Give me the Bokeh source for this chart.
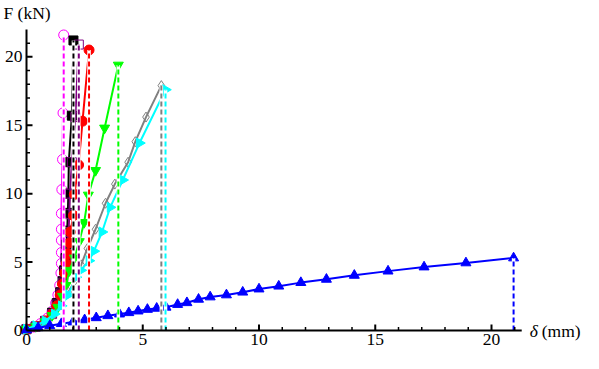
import math
from bokeh.plotting import figure
from bokeh.models import Range1d
from bokeh.core.properties import value
from bokeh.embed import file_html
from bokeh.resources import INLINE

# ---- data ----
mag_x = [0, 0.3, 0.6, 0.9, 1.1, 1.25, 1.35, 1.43, 1.48, 1.5, 1.5, 1.5, 1.5, 1.5, 1.52, 1.55, 1.57, 1.6]
mag_y = [0.1, 0.25, 0.5, 0.9, 1.4, 2.0, 2.6, 3.3, 4.2, 4.9, 5.7, 6.6, 7.4, 8.55, 10.3, 12.5, 15.9, 21.6]

blk_x = [0, 0.4, 0.8, 1.1, 1.3, 1.45, 1.55, 1.62, 1.68, 1.72, 1.75, 1.78, 1.8, 1.82, 1.95, 2.02]
blk_y = [0.1, 0.3, 0.7, 1.3, 2.0, 2.8, 3.6, 4.4, 5.3, 6.3, 7.3, 8.6, 10.0, 12.3, 15.7, 21.2]

pur_x = [0, 0.4, 0.8, 1.1, 1.3, 1.47, 1.58, 1.66, 1.72, 1.77, 1.81, 1.84, 1.87, 1.95, 2.1, 2.25]
pur_y = [0.1, 0.3, 0.7, 1.2, 1.9, 2.7, 3.5, 4.3, 5.2, 6.2, 7.2, 8.5, 10.0, 12.3, 15.6, 20.9]

red_x = [0, 0.4, 0.8, 1.1, 1.3, 1.45, 1.55, 1.64, 1.71, 1.78, 1.85, 1.88, 2.02, 2.06, 2.24, 2.41, 2.69]
red_y = [0.1, 0.3, 0.7, 1.2, 1.8, 2.6, 3.4, 4.2, 4.9, 5.6, 6.4, 7.2, 8.4, 9.95, 12.1, 15.3, 20.5]

grn_x = [0, 0.4, 0.8, 1.1, 1.35, 1.55, 1.7, 1.85, 2.06, 2.27, 2.48, 2.66, 2.97, 3.36, 3.95]
grn_y = [0.1, 0.3, 0.65, 1.1, 1.7, 2.5, 3.3, 4.4, 5.3, 6.5, 7.9, 9.9, 11.7, 14.8, 19.4]

gry_x = [0, 0.4, 0.8, 1.2, 1.5, 1.8, 2.1, 2.35, 2.62, 2.97, 3.4, 3.8, 4.37, 4.68, 5.14, 5.8]
gry_y = [0.1, 0.3, 0.65, 1.2, 1.9, 2.8, 3.7, 4.8, 6.0, 7.4, 9.3, 10.7, 12.3, 13.8, 15.6, 17.9]

cyn_x = [0, 0.4, 0.8, 1.2, 1.5, 1.8, 2.13, 2.34, 2.69, 2.9, 3.25, 3.6, 4.14, 4.86, 5.98]
cyn_y = [0.1, 0.35, 0.7, 1.2, 1.8, 2.6, 3.9, 4.4, 5.1, 5.8, 7.2, 9.0, 11.0, 13.7, 17.6]

blu_x = [0, 0.5, 1.0, 1.5, 2.0, 2.5, 3.0, 3.5, 4.0, 4.4, 4.8, 5.2, 5.6, 6.0, 6.5, 6.9,
         7.4, 7.9, 8.6, 9.3, 10.0, 10.85, 11.8, 12.9, 14.1, 15.55, 17.1, 18.9, 20.95]
blu_y = [0.05, 0.2, 0.35, 0.5, 0.62, 0.78, 0.93, 1.08, 1.2, 1.3, 1.42, 1.54, 1.62, 1.7, 1.9, 2.03,
         2.28, 2.45, 2.6, 2.8, 3.03, 3.24, 3.5, 3.74, 4.03, 4.34, 4.64, 4.94, 5.3]

x_ticks = [0, 5, 10, 15, 20]
y_ticks = [0, 5, 10, 15, 20]
x_axis_max = 21.3
y_axis_max = 22.0

FONT = value("Liberation Serif")
FS = "17.5px"

W, H = 583, 353
# screen layout: data origin at canvas (26, 330); y_axis_max at canvas y 29
PXX = 23.25
PXY = (330 - 29) / y_axis_max
x0 = -26 / PXX
x1 = x0 + W / PXX
y1 = 330 / PXY
y0 = y1 - H / PXY

p = figure(width=W, height=H, output_backend="svg", toolbar_location=None,
           x_range=Range1d(x0, x1), y_range=Range1d(y0, y1),
           min_border=0, x_axis_type=None, y_axis_type=None)
p.min_border_left = p.min_border_right = p.min_border_top = p.min_border_bottom = 0
p.outline_line_color = None
p.xgrid.visible = False
p.ygrid.visible = False
p.background_fill_color = "white"
p.border_fill_color = "white"

series = [
    (mag_x, mag_y, "#FF00FF", "circle", True, 10, 0),
    (blk_x, blk_y, "#000000", "square", False, 9, 0),
    (pur_x, pur_y, "#800080", "square", True, 9, 0),
    (red_x, red_y, "#FF0000", "circle", False, 10, 0),
    (grn_x, grn_y, "#00FF00", "inverted_triangle", False, 10, 0),
    (gry_x, gry_y, "#808080", "diamond", True, 10, 0),
    (cyn_x, cyn_y, "#00FFFF", "triangle", False, 10, -math.pi / 2),
    (blu_x, blu_y, "#0000FF", "triangle", False, 10, 0),
]

for xs, ys, col, mk, hollow, sz, ang in series:
    p.line(xs, ys, line_color=col, line_width=2)
    p.scatter(xs, ys, marker=mk, size=sz, angle=ang,
              line_color=col, line_width=1,
              fill_color=("white" if hollow else col),
              fill_alpha=(0 if hollow else 1))

for xs, ys, col, mk, hollow, sz, ang in series:
    xp, yp = xs[-1], ys[-1]
    p.segment([xp], [0], [xp], [yp], line_color="white", line_width=3.5)
    p.segment([xp], [0], [xp], [yp], line_color=col, line_width=2, line_dash="5 3")

# ---- axes drawn by hand (crossing at origin, inward ticks) ----
p.segment([0, 0], [0, 0], [x_axis_max, 0], [0, y_axis_max], line_color="black", line_width=2)

x_major = [t for t in x_ticks if t > 0]
y_major = [t for t in y_ticks if t > 0]
x_minor = [i for i in range(1, int(x_axis_max) + 1) if i % 5 != 0]
y_minor = [i for i in range(1, int(y_axis_max)) if i % 5 != 0]

p.ray(x=x_major, y=[0] * len(x_major), length=6, length_units="screen",
      angle=math.pi / 2, line_color="black", line_width=2)
p.ray(x=x_minor, y=[0] * len(x_minor), length=3.5, length_units="screen",
      angle=math.pi / 2, line_color="black", line_width=1.5)
p.ray(x=[0] * len(y_major), y=y_major, length=6, length_units="screen",
      angle=0, line_color="black", line_width=2)
p.ray(x=[0] * len(y_minor), y=y_minor, length=3.5, length_units="screen",
      angle=0, line_color="black", line_width=1.5)

# tick labels
p.text(x=x_ticks, y=[-3 / PXY] * len(x_ticks), text=[str(t) for t in x_ticks],
       text_font=FONT, text_font_size=FS, text_color="black",
       text_align="center", text_baseline="top")
p.text(x=[-4 / PXX] * len(y_ticks), y=y_ticks, text=[str(t) for t in y_ticks],
       text_font=FONT, text_font_size=FS, text_color="black",
       text_align="right", text_baseline="middle")

# axis titles
p.text(x=[x_axis_max + 8 / PXX], y=[0], text=["δ"], text_font=FONT,
       text_font_style="italic", text_font_size=FS, text_color="black",
       text_align="left", text_baseline="middle")
p.text(x=[x_axis_max + 20 / PXX], y=[0], text=["(mm)"], text_font=FONT,
       text_font_size=FS, text_color="black",
       text_align="left", text_baseline="middle")
p.text(x=[x0 + 3 / PXX], y=[y1 - 2 / PXY], text=["F (kN)"], text_font=FONT,
       text_font_size=FS, text_color="black",
       text_align="left", text_baseline="top")

open("out.html", "w").write(file_html(p, INLINE))
